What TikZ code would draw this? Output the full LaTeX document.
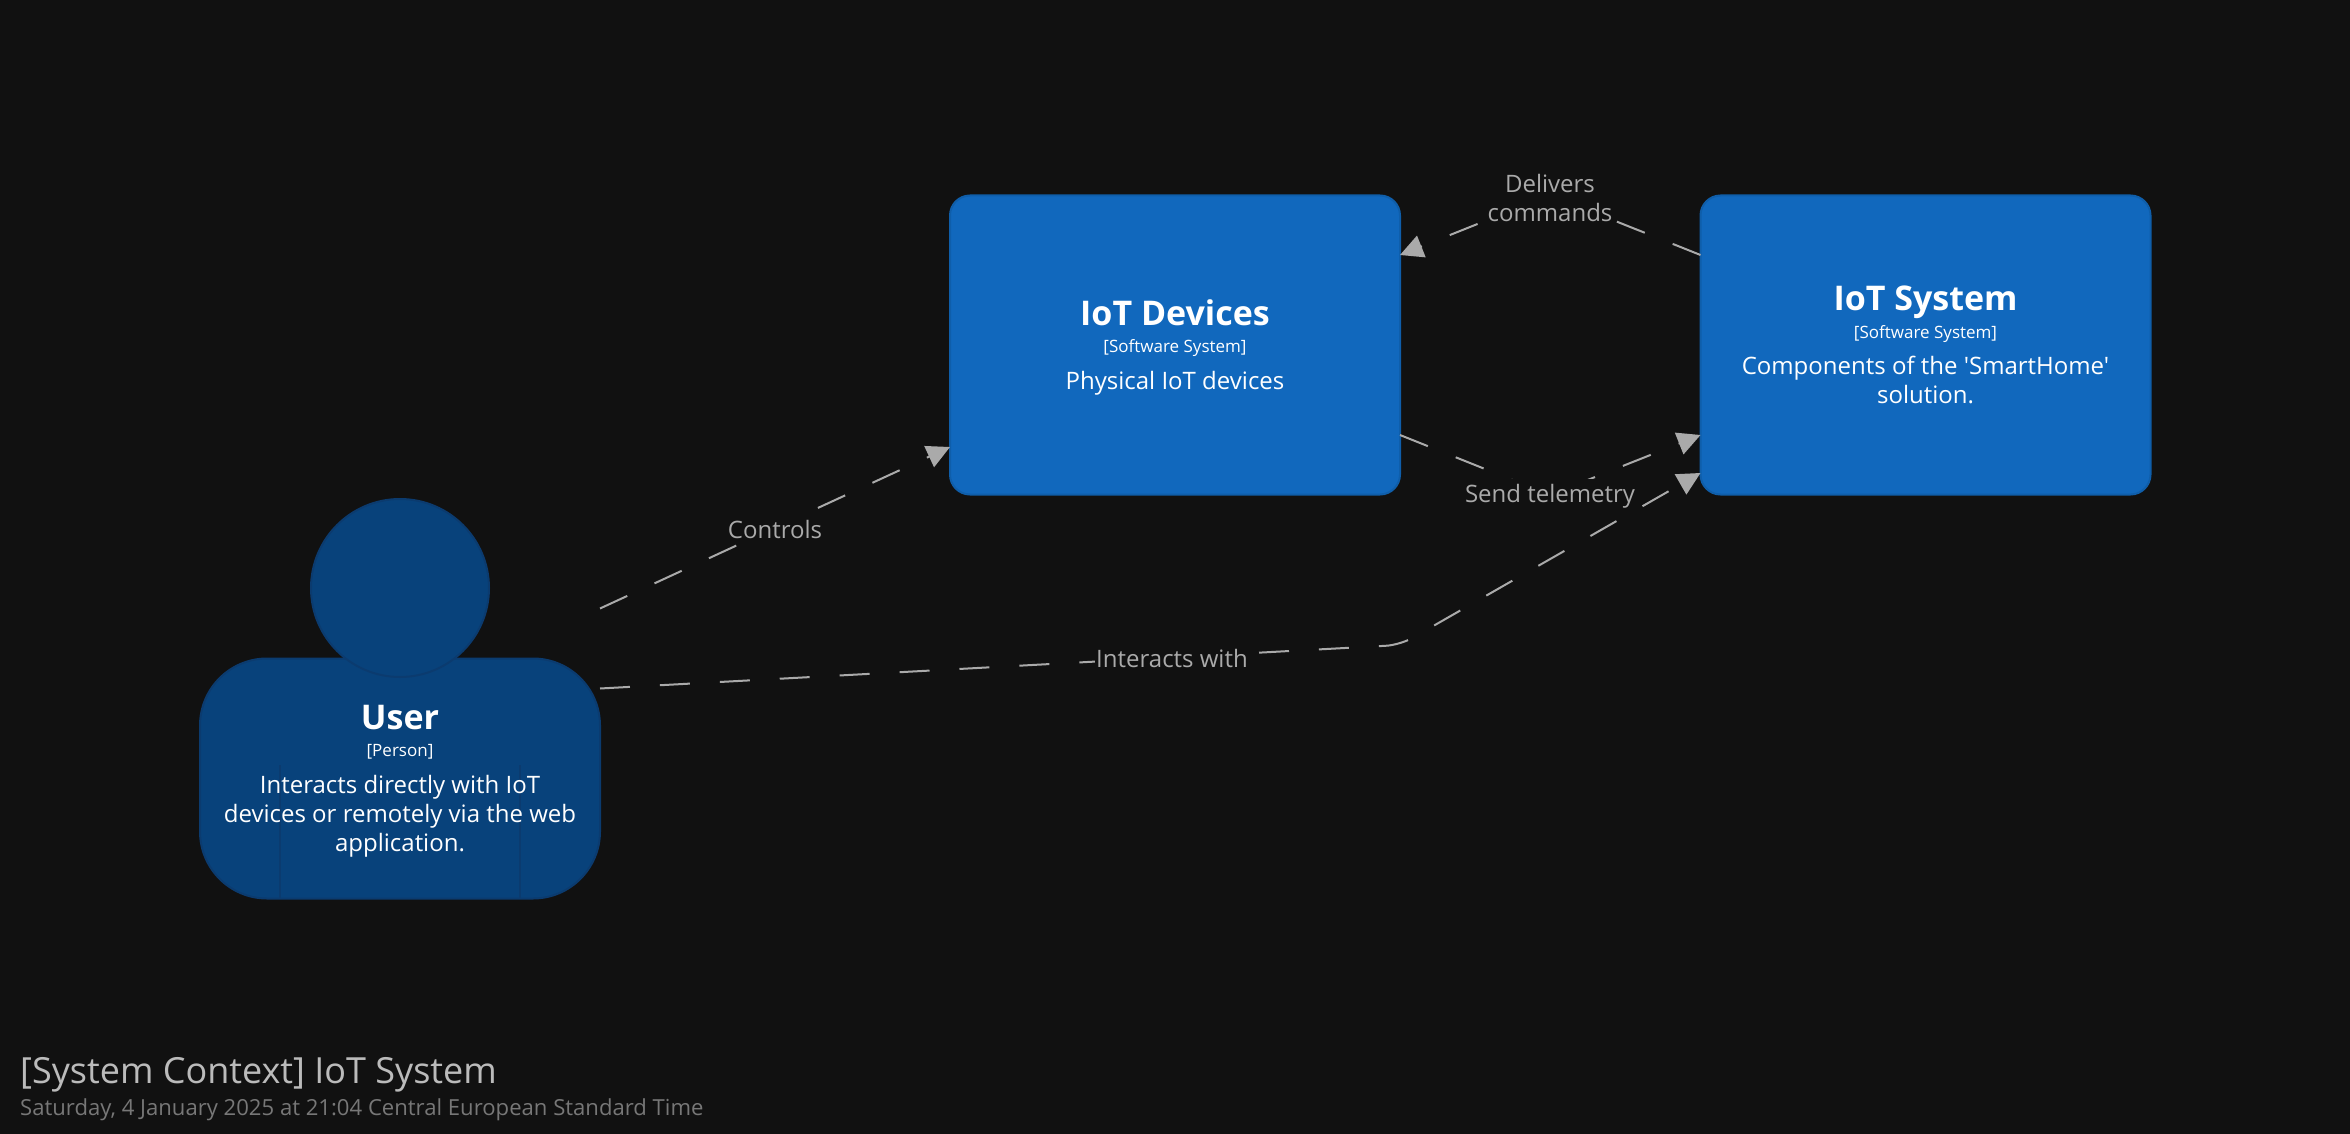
\documentclass[tikz,border=0pt]{standalone}
\usepackage{fontspec}
\setmainfont{Open Sans}
\newfontfamily\quotefont{Open Sans}
\usetikzlibrary{arrows.meta,positioning}
\definecolor{pagebg}{HTML}{111111}
\definecolor{sysfill}{HTML}{1168BD}
\definecolor{sysline}{HTML}{0F5EAA}
\definecolor{userfill}{HTML}{08427B}
\definecolor{userline}{HTML}{0B3B6F}
\definecolor{edgegrey}{HTML}{AAAAAA}
\definecolor{titlegrey}{HTML}{BBBBBB}
\definecolor{dategrey}{HTML}{777777}
\newcommand{\namefont}{\fontsize{34}{40}\selectfont\bfseries}
\newcommand{\metafont}{\fontsize{17}{22}\selectfont}
\newcommand{\descfont}{\fontsize{24}{29}\selectfont}
\tikzset{
    sysbox/.style={draw=sysline, line width=2pt, fill=sysfill, rounded corners=20pt,
        minimum width=450pt, minimum height=299pt, outer sep=0pt},
    systxt/.style={text=white, align=center, font=\descfont, inner sep=0pt},
    userbody/.style={draw=userline, line width=2pt, fill=userfill, rounded corners=67pt,
        minimum width=400pt, minimum height=240pt, outer sep=0pt, inner sep=0pt},
    userhead/.style={circle, draw=userline, line width=2pt, fill=userfill,
        minimum size=178pt, outer sep=0pt, inner sep=0pt},
    rel/.style={draw=edgegrey, line width=2pt, dash pattern=on 30pt off 30pt,
        -{Triangle[length=23pt,width=23pt,fill=edgegrey]}},
    rellabel/.style={fill=pagebg, text=edgegrey, font=\descfont, align=center,
        inner xsep=1pt, inner ysep=5pt}
}
\begin{document}
\begin{tikzpicture}[x=1pt, y=-1pt]
    \useasboundingbox (0,0) rectangle (2350,1134);
    \fill[pagebg] (0,0) rectangle (2350,1134);

    % systems
    \node[sysbox] (devices) at (1175,345) {};
    \node[systxt] (devicestext) at (1175,347) {{\namefont IoT Devices}\\[-2pt]
        {\metafont [Software System]}\\[8pt]
        Physical IoT devices};
    \node[sysbox] (system) at (1925.5,345) {};
    \node[systxt] (systemtext) at (1925.5,345) {{\namefont IoT System}\\[-1pt]
        {\metafont [Software System]}\\[7pt]
        Components of the {\quotefont 'SmartHome'}\\solution.};

    % person
    \node[userbody] (user) at (400,778.5) {};
    \draw[userline, line width=1.5pt] ([xshift=-120pt]user.south) -- ++(0,-134);
    \draw[userline, line width=1.5pt] ([xshift=120pt]user.south) -- ++(0,-134);
    \node[userhead] (head) at (400,588) {};
    \node[systxt] (usertext) at (400,781) {{\namefont User}\\[-2pt]
        {\metafont [Person]}\\[8pt]
        Interacts directly with IoT\\devices or remotely via the web\\application.};

    % bends of the connectors
    \coordinate (deliverbend) at (1550,195);
    \coordinate (sendbend) at (1550,495);
    \coordinate (interactbend) at (1400,645);

    % connectors
    \draw[rel] ([yshift=170pt]user.east) -- ([yshift=-102pt]devices.west);
    \draw[rel] ([yshift=90pt]system.west) -- (deliverbend) -- ([yshift=90pt]devices.east);
    \draw[rel] ([yshift=-90pt]devices.east) -- (sendbend) -- ([yshift=-90pt]system.west);
    \draw[rel, rounded corners=14pt] ([yshift=90pt]user.east) -- (interactbend) -- ([yshift=-128pt]system.west);

    % labels
    \node[rellabel] (controlslabel) at (775,529) {Controls};
    \node[rellabel] (deliverlabel) at (1550,198) {Delivers\\commands};
    \node[rellabel] (sendlabel) at (1550,496) {Send telemetry};
    \node[rellabel] (interactlabel) at (1172,658) {Interacts with};

    % title
    \node[anchor=base west, inner sep=0pt, text=titlegrey, font=\fontsize{36}{44}\selectfont] (title) at (20,1083) {[System Context] IoT System};
    \node[anchor=base west, inner sep=0pt, text=dategrey, font=\fontsize{22.1}{28}\selectfont] (date) at (20,1115) {Saturday, 4 January 2025 at 21:04 Central European Standard Time};
\end{tikzpicture}
\end{document}
